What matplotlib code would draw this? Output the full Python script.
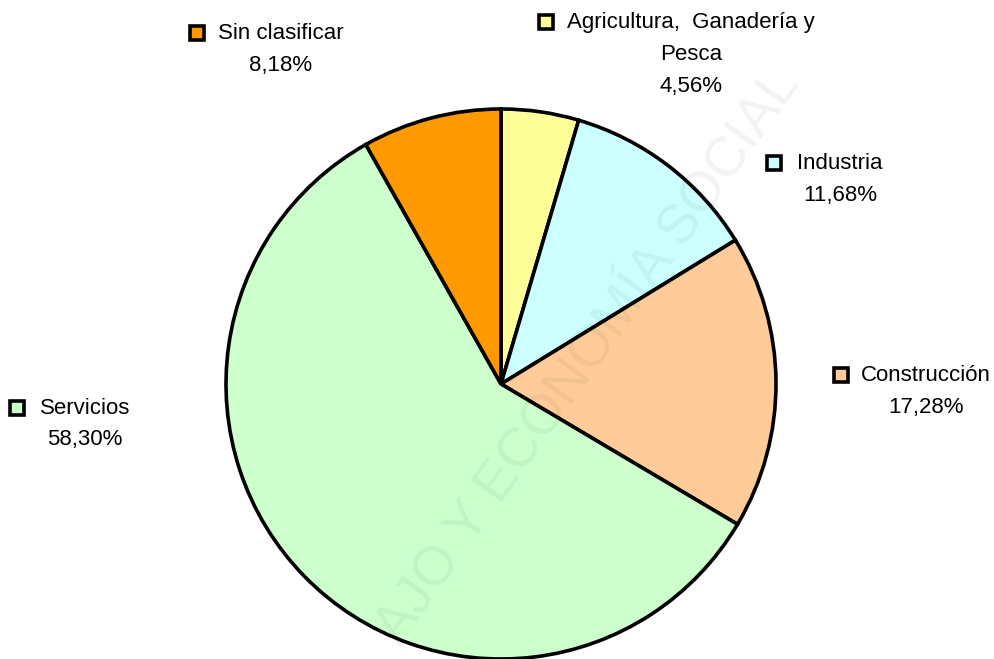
import matplotlib.pyplot as plt

categories = ['Agricultura,  Ganadería y\nPesca', 'Industria', 'Construcción', 'Servicios', 'Sin clasificar']
values = [4.56, 11.68, 17.28, 58.30, 8.18]
colors = ['#FFFF99', '#CCFFFF', '#FFCC99', '#CCFFCC', '#FF9900']

# label layout in pixels (marker x, first line y, block centre x)
mark_x = [546, 774, 841, 17, 197]
first_y = [22, 163, 375, 408, 33]
text_cx = [691, 840, 926, 85, 281]

W, H = 995, 659
plt.rcParams['font.family'] = ['Liberation Sans Narrow', 'Liberation Sans', 'DejaVu Sans']

fig = plt.figure(figsize=(W / 100, H / 100), dpi=100)
ax = fig.add_axes([0, 0, 1, 1])

ax.pie(values, colors=colors, startangle=90, counterclock=False,
       center=(501, H - 384), radius=275, frame=True,
       wedgeprops=dict(edgecolor='black', linewidth=2.6))
ax.set_xlim(0, W)
ax.set_ylim(0, H)
ax.axis('off')

# faint watermark
ax.text(790, H - 76, 'AJO Y ECONOMÍA SOCIAL', rotation=54.5, rotation_mode='anchor',
        ha='right', va='center', fontsize=40, color='black', alpha=0.05, zorder=5,
        family=['Liberation Sans', 'DejaVu Sans'])

line_h = 32
for i, (cat, val) in enumerate(zip(categories, values)):
    lines = cat.split('\n') + [('%.2f%%' % val).replace('.', ',')]
    ax.plot(mark_x[i], H - first_y[i], marker='s', markersize=10, markerfacecolor=colors[i],
            markeredgecolor='black', markeredgewidth=2.6, linestyle='none', clip_on=False)
    for j, ln in enumerate(lines):
        ax.text(text_cx[i], H - first_y[i] - j * line_h, ln, ha='center', va='center',
                fontsize=16, color='black')

fig.savefig('out.png', dpi=100)
